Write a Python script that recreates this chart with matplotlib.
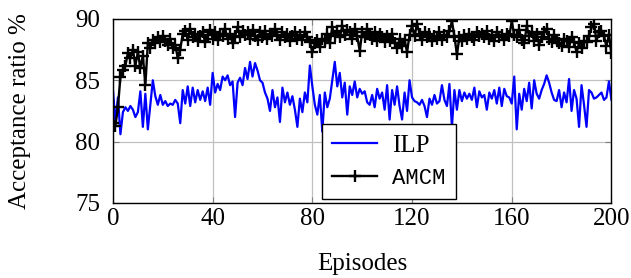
import numpy as np
import matplotlib
matplotlib.use('Agg')
import matplotlib.pyplot as plt

plt.rcParams['font.family'] = ['Liberation Serif', 'DejaVu Serif']
plt.rcParams['mathtext.fontset'] = 'stix'

episodes = np.arange(0, 201)

ilp = [84.2, 81.5, 83.6, 80.6, 82.4, 82.8, 82.5, 82.9, 82.6, 82.0,
       82.4, 84.1, 81.2, 83.9, 81.0, 83.0, 85.0, 83.7, 83.0, 83.8,
       83.0, 83.3, 82.9, 83.1, 83.0, 83.4, 83.1, 81.5, 84.2, 83.1,
       84.5, 82.9, 84.4, 83.2, 84.2, 83.4, 84.1, 83.3, 84.4, 83.0,
       85.6, 84.0, 84.7, 84.2, 85.3, 85.0, 85.4, 84.6, 84.9, 82.0,
       84.8, 85.2, 84.6, 86.0, 85.1, 86.5, 85.3, 86.4, 85.8, 85.0,
       84.8, 84.0, 83.5, 82.5, 84.2, 82.8, 83.6, 81.6, 84.4, 83.2,
       84.0, 83.0, 83.7, 82.6, 81.2, 83.5, 82.4, 84.0, 83.2, 86.2,
       84.5, 83.0, 82.2, 83.8, 80.8, 84.0, 82.8, 83.5, 85.0, 86.5,
       84.5, 85.6, 83.6, 84.8, 82.2, 84.5, 83.8, 84.9, 83.6, 84.3,
       83.9, 84.1, 83.2, 83.0, 83.8, 82.8, 84.3, 83.5, 84.0, 82.6,
       84.6, 81.8, 84.2, 83.0, 84.5, 82.9, 81.8, 84.0, 82.5, 85.0,
       83.6, 83.3, 83.2, 83.0, 83.4, 82.9, 82.0, 83.5, 83.0, 83.8,
       83.1, 83.3, 84.6, 83.4, 82.9, 84.7, 81.2, 84.2, 82.6, 84.2,
       83.3, 84.0, 83.5, 83.9, 83.4, 84.4, 82.8, 84.1, 83.6, 83.8,
       82.6, 84.0, 83.5, 84.2, 83.1, 84.4, 82.9, 84.3, 83.7, 83.6,
       83.1, 85.3, 81.0, 83.9, 82.6, 84.3, 83.3, 84.8, 82.7, 85.0,
       83.9, 83.5, 84.2, 84.7, 85.4, 84.8, 84.0, 83.4, 83.3, 84.2,
       82.8, 84.0, 83.2, 85.1, 82.5, 84.2, 83.5, 81.2, 84.6, 83.0,
       81.2, 84.2, 84.0, 83.5, 83.6, 83.8, 84.0, 83.4, 83.6, 84.9,
       83.4]

amcm = [81.5, 81.3, 82.8, 85.3, 85.8, 86.2, 87.2, 86.8, 87.5, 86.2,
        87.3, 86.0, 87.0, 84.6, 88.0, 87.6, 88.3, 88.0, 88.5, 88.1,
        88.6, 88.2, 87.9, 88.4, 87.6, 87.9, 86.8, 87.5, 88.8, 89.0,
        88.3, 89.2, 88.5, 88.8, 88.2, 88.6, 88.9, 88.1, 88.7, 89.1,
        88.4, 88.9, 88.3, 88.8, 88.6, 89.2, 88.4, 88.8, 88.0, 88.6,
        89.3, 88.5, 89.0, 88.7, 88.9, 88.4, 89.1, 88.6, 88.3, 88.9,
        88.5, 89.0, 88.4, 88.8, 88.6, 89.2, 88.7, 88.3, 88.9, 88.5,
        88.8, 88.2, 88.6, 88.9, 88.4, 88.7, 88.3, 88.9, 88.5, 88.1,
        87.3, 88.0, 88.3, 87.7, 88.4, 88.2, 88.8, 88.0, 89.3, 88.6,
        89.0, 88.5, 89.4, 88.7, 89.1, 88.9, 88.4, 89.2, 88.6, 87.4,
        88.9, 88.5, 89.2, 88.7, 88.4, 88.9, 88.2, 88.8, 88.5, 88.1,
        88.6, 88.2, 88.8, 88.0, 87.6, 88.4, 87.8, 88.3, 87.3, 88.7,
        89.4, 88.6, 89.6, 88.8, 88.3, 88.9, 88.5, 88.8, 88.2, 88.6,
        88.4, 88.9, 88.3, 88.7, 88.5, 89.0, 89.8, 88.6, 87.1, 88.5,
        88.2, 88.7, 88.4, 88.8, 88.5, 88.3, 88.9, 88.6, 88.8, 88.5,
        89.0, 88.4, 88.7, 88.2, 88.9, 88.5, 88.7, 88.3, 88.8, 88.6,
        89.8, 88.7, 88.5, 89.1, 88.3, 88.0, 89.4, 88.6, 88.9, 88.2,
        88.8, 87.9, 88.5, 88.9, 89.2, 88.4, 88.1, 88.7, 88.3, 88.0,
        87.8, 88.4, 88.2, 87.7, 88.5, 88.1, 87.3, 88.0, 87.6, 88.2,
        88.1, 88.6, 89.3, 89.6, 88.2, 88.9, 89.0, 88.6, 87.8, 88.7,
        87.2]

xticks = [0, 40, 80, 120, 160, 200]
yticks = [75, 80, 85, 90]

fig = plt.figure(figsize=(6.31, 2.78), dpi=100)
ax = fig.add_axes((0.179, 0.270, 0.790, 0.662))

ax.plot(episodes, ilp, color='blue', linewidth=1.6, label='ILP')
ax.plot(episodes, amcm, color='black', linewidth=1.7, marker='+',
        markersize=8, markeredgewidth=1.7, label='AMCM')

ax.set_xlim(0, 200)
ax.set_ylim(75, 90)
ax.set_xticks(xticks)
ax.set_yticks(yticks)
ax.grid(True, color='#c0c0c0', linewidth=0.9)
ax.set_axisbelow(True)
ax.tick_params(direction='in', top=True, right=True, length=4,
               color='#808080', labelsize=18)
ax.tick_params(axis='y', pad=9)
ax.tick_params(axis='x', pad=4)
for sp in ax.spines.values():
    sp.set_linewidth(1.0)

ax.set_xlabel('Episodes', fontsize=18, labelpad=16)
ax.set_ylabel('Acceptance ratio %', fontsize=18)
ax.yaxis.set_label_coords(-0.165, 0.5)

leg = ax.legend(loc='lower left', bbox_to_anchor=(0.42, 0.02), fontsize=18,
                fancybox=False, framealpha=1, edgecolor='black',
                handlelength=1.8, borderpad=0.4, labelspacing=0.4,
                handletextpad=0.6, borderaxespad=0)
leg.get_frame().set_linewidth(1.0)
leg.get_texts()[1].set_family(['Liberation Mono', 'DejaVu Sans Mono'])
leg.get_texts()[1].set_fontsize(16)

fig.savefig('out.png', dpi=100)
